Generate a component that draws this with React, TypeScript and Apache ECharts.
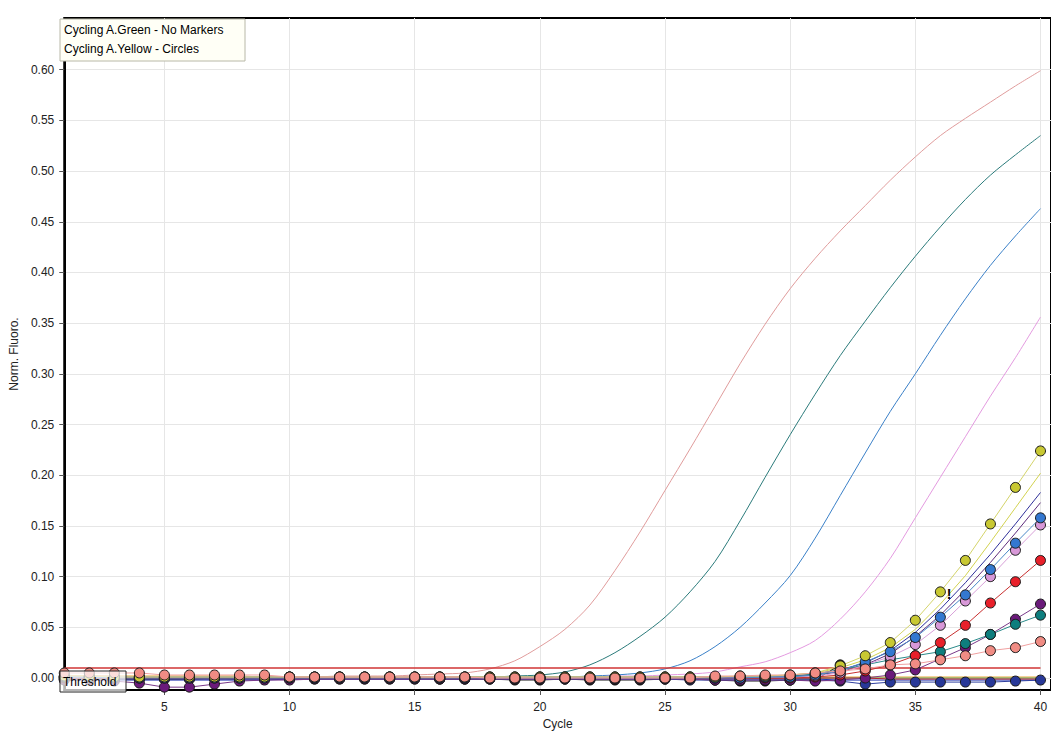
import React, { useEffect, useRef } from "react";
import * as echarts from "echarts";

const CYCLES = [1,2,3,4,5,6,7,8,9,10,11,12,13,14,15,16,17,18,19,20,21,22,23,24,25,26,27,28,29,30,31,32,33,34,35,36,37,38,39,40];
const X_TICKS = [5, 10, 15, 20, 25, 30, 35, 40];
const Y_TICKS = [0, 0.05, 0.1, 0.15, 0.2, 0.25, 0.3, 0.35, 0.4, 0.45, 0.5, 0.55, 0.6];
const THRESHOLD = 0.01;
const LEGEND_LINES = ["Cycling A.Green - No Markers", "Cycling A.Yellow - Circles"];

// Cycling A.Green (no markers)
const GREEN_SALMON = [0.003,0.002,0.002,0.001,0.001,0.001,0.001,0.001,0.001,0.001,0.001,0.002,0.002,0.002,0.003,0.004,0.005,0.009,0.017,0.031,0.048,0.072,0.106,0.144,0.185,0.226,0.268,0.310,0.349,0.384,0.414,0.441,0.466,0.491,0.514,0.535,0.552,0.568,0.584,0.599];
const GREEN_TEAL = [0.001,0.001,0.001,0.000,0.000,0.000,0.000,0.000,0.000,0.000,0.000,0.000,0.000,0.001,0.001,0.001,0.001,0.001,0.002,0.003,0.006,0.013,0.025,0.041,0.060,0.085,0.115,0.155,0.198,0.240,0.280,0.318,0.352,0.385,0.416,0.445,0.472,0.496,0.516,0.535];
const GREEN_BLUE = [0.000,0.000,0.000,0.000,0.000,0.000,0.000,0.000,0.000,0.000,0.000,0.000,0.000,0.000,0.000,0.000,0.001,0.001,0.001,0.001,0.001,0.002,0.003,0.005,0.009,0.017,0.031,0.050,0.074,0.101,0.138,0.180,0.222,0.263,0.300,0.338,0.374,0.407,0.436,0.463];
const GREEN_PINK = [0.001,0.001,0.001,0.001,0.001,0.001,0.001,0.001,0.001,0.001,0.001,0.001,0.001,0.001,0.001,0.001,0.001,0.001,0.001,0.001,0.001,0.001,0.002,0.002,0.003,0.004,0.006,0.011,0.016,0.025,0.037,0.058,0.085,0.118,0.158,0.198,0.238,0.278,0.316,0.356];

// extra unmarked traces
const LINE_YELLOW = [0.001,0.001,0.001,0.001,0.001,0.001,0.001,0.001,0.001,0.001,0.001,0.001,0.001,0.001,0.001,0.001,0.001,0.001,0.001,0.001,0.001,0.001,0.001,0.001,0.001,0.001,0.001,0.001,0.002,0.003,0.005,0.010,0.018,0.030,0.048,0.073,0.101,0.134,0.168,0.202];
const LINE_NAVY = [0.000,0.000,0.000,0.000,0.000,0.000,0.000,0.000,0.000,0.000,0.000,0.000,0.000,0.000,0.000,0.000,0.000,0.000,0.000,0.000,0.000,0.000,0.000,0.000,0.000,0.000,0.001,0.001,0.001,0.002,0.004,0.008,0.015,0.027,0.045,0.068,0.094,0.122,0.152,0.183];
const LINE_PURPLE = [-0.001,-0.001,-0.001,-0.001,-0.001,-0.001,-0.001,-0.001,-0.001,-0.001,-0.001,-0.001,-0.001,-0.001,-0.001,-0.001,-0.001,-0.001,-0.001,-0.001,-0.001,-0.001,-0.001,0.000,0.000,0.000,0.000,0.000,0.001,0.001,0.003,0.006,0.013,0.024,0.041,0.062,0.087,0.114,0.143,0.173];
const LINE_DARKRED = [0.000,0.000,0.000,0.000,0.000,0.000,0.000,0.000,0.000,0.000,0.000,0.000,0.000,0.000,0.000,0.000,0.000,0.000,0.000,0.000,0.000,0.000,0.000,0.000,0.000,0.000,0.000,0.000,0.000,0.000,0.000,0.000,0.000,-0.001,-0.001,-0.001,-0.001,-0.001,-0.001,-0.001];
const LINE_ORANGE = [0.002,0.002,0.002,0.002,0.002,0.002,0.002,0.002,0.001,0.001,0.001,0.001,0.001,0.001,0.001,0.001,0.001,0.001,0.001,0.001,0.001,0.001,0.001,0.001,0.001,0.001,0.001,0.001,0.001,0.001,0.001,0.001,0.001,0.001,0.001,0.001,0.001,0.001,0.001,0.001];
const LINE_GREEN = [0.001,0.001,0.001,0.001,0.001,0.001,0.001,0.001,0.001,0.000,0.000,0.000,0.000,0.000,0.000,0.000,0.000,0.000,0.000,0.000,0.000,0.000,0.000,0.000,0.000,0.000,0.000,0.000,0.000,0.000,0.000,0.000,0.000,0.000,0.000,0.000,0.000,0.000,0.000,0.000];
const LINE_BLUE = [-0.002,-0.002,-0.002,-0.002,-0.002,-0.002,-0.002,-0.002,-0.002,-0.001,-0.001,-0.001,-0.001,-0.001,-0.001,-0.001,-0.001,-0.001,-0.001,-0.001,-0.001,-0.001,-0.001,-0.001,-0.001,-0.001,-0.001,-0.001,-0.001,-0.001,-0.001,-0.002,-0.002,-0.002,-0.002,-0.002,-0.002,-0.002,-0.002,-0.002];

// Cycling A.Yellow (circles)
const Y_OLIVE = [0.002,0.002,0.001,0.001,0.001,0.001,0.001,0.001,0.001,0.001,0.001,0.001,0.001,0.001,0.001,0.001,0.001,0.001,0.001,0.001,0.001,0.001,0.001,0.001,0.001,0.001,0.001,0.002,0.002,0.003,0.005,0.012,0.022,0.035,0.057,0.085,0.116,0.152,0.188,0.224];
const Y_BLUE = [0.001,0.001,0.000,0.000,0.000,0.000,0.000,0.000,0.000,0.000,0.000,0.000,0.000,0.000,0.000,0.000,0.000,0.000,0.000,0.000,0.000,0.000,0.000,0.000,0.000,0.000,0.000,0.000,0.001,0.001,0.003,0.007,0.016,0.026,0.040,0.060,0.082,0.107,0.133,0.158];
const Y_LIGHTPINK = [0.001,0.001,0.001,0.001,0.001,0.001,0.001,0.001,0.001,0.001,0.001,0.001,0.001,0.001,0.001,0.001,0.001,0.001,0.001,0.001,0.001,0.001,0.001,0.001,0.001,0.001,0.001,0.001,0.001,0.001,0.002,0.005,0.013,0.021,0.033,0.052,0.076,0.100,0.126,0.151];
const Y_RED = [0.000,0.000,0.000,0.000,0.000,0.000,0.000,0.000,0.000,0.000,0.000,0.000,0.000,0.000,0.000,0.000,0.000,0.000,0.000,0.000,0.000,0.000,0.000,0.000,0.000,0.000,0.000,0.000,0.000,0.000,0.001,0.003,0.007,0.013,0.022,0.035,0.052,0.074,0.095,0.116];
const Y_PURPLE = [-0.002,-0.002,-0.003,-0.005,-0.009,-0.009,-0.006,-0.003,-0.002,-0.002,-0.001,-0.001,-0.001,-0.001,-0.001,-0.001,-0.001,-0.001,-0.001,-0.001,-0.001,-0.001,-0.001,-0.001,-0.001,-0.001,-0.002,-0.002,-0.002,-0.002,-0.003,-0.002,0.000,0.003,0.008,0.019,0.030,0.043,0.058,0.073];
const Y_TEAL = [0.001,0.001,0.001,0.001,0.001,0.001,0.001,0.001,0.001,0.001,0.001,0.001,0.001,0.001,0.001,0.001,0.001,0.001,0.001,0.001,0.001,0.001,0.001,0.001,0.001,0.001,0.001,0.001,0.001,0.002,0.004,0.008,0.013,0.018,0.022,0.026,0.034,0.043,0.053,0.062];
const Y_NAVY = [-0.001,-0.001,-0.001,-0.001,-0.001,-0.001,-0.001,-0.001,-0.001,-0.001,-0.001,-0.001,-0.001,-0.001,-0.001,-0.001,-0.001,-0.001,-0.001,-0.001,-0.001,-0.001,-0.001,-0.001,-0.001,-0.002,-0.002,-0.002,-0.002,-0.002,-0.002,-0.003,-0.006,-0.004,-0.004,-0.004,-0.004,-0.004,-0.003,-0.002];
const Y_BLACK = [-0.001,-0.001,-0.001,-0.001,-0.001,-0.001,0.000,-0.001,0.001,0.000,0.000,0.000,0.000,0.000,0.000,-0.001,-0.001,-0.001,-0.002,-0.002,-0.001,-0.002,-0.002,-0.002,-0.001,-0.001,-0.002,-0.003,-0.003,-0.002,-0.002,0.013,null,null,null,null,null,null,null,null];
const Y_SALMON = [0.005,0.005,0.005,0.005,0.003,0.003,0.003,0.003,0.003,0.001,0.001,0.001,0.001,0.001,0.001,0.001,0.001,0.000,0.000,0.000,0.000,0.000,0.000,0.000,0.000,0.000,0.002,0.002,0.003,0.003,0.005,0.007,0.009,0.013,0.014,0.018,0.022,0.027,0.030,0.036];

const FONT = "Liberation Sans, Arial, sans-serif";

function toPoints(vals: (number | null)[]) {
  return CYCLES.map((c, i) => [c, vals[i] === null ? "-" : vals[i]]);
}

function plainLine(name: string, vals: number[], color: string, smooth: number | boolean = false) {
  return {
    name,
    type: "line",
    data: toPoints(vals),
    showSymbol: false,
    symbol: "none",
    smooth,
    lineStyle: { color, width: 1 },
    z: 2,
    silent: true,
  };
}

function markerLine(name: string, vals: (number | null)[], fill: string, line: string, extra: any = {}) {
  return {
    name,
    type: "line",
    data: toPoints(vals),
    symbol: "circle",
    symbolSize: 10,
    showSymbol: true,
    connectNulls: false,
    itemStyle: { color: fill, borderColor: "#1a1a1a", borderWidth: 1 },
    lineStyle: { color: line, width: 1 },
    z: 3,
    silent: true,
    ...extra,
  };
}

export default function App() {
  const ref = useRef<HTMLDivElement>(null);
  useEffect(() => {
    if (!ref.current) return;
    const chart = echarts.init(ref.current, null, { renderer: "svg" });
    const option: any = {
      animation: false,
      backgroundColor: "#ffffff",
      textStyle: { fontFamily: FONT },
      grid: {
        left: 60,
        top: 18,
        right: 0,
        bottom: 42,
        show: true,
        borderColor: "#000",
        borderWidth: 2,
        backgroundColor: "#fff",
      },
      xAxis: {
        type: "value",
        min: 1,
        max: 40.42,
        name: "Cycle",
        nameLocation: "middle",
        nameGap: 28,
        nameTextStyle: { color: "#222", fontSize: 12, fontFamily: FONT },
        axisLine: { show: true, onZero: false, lineStyle: { color: "#000", width: 2 } },
        axisTick: { show: true, customValues: X_TICKS, length: 5, lineStyle: { color: "#555" } },
        axisLabel: { customValues: X_TICKS, color: "#222", fontSize: 12, margin: 11, fontFamily: FONT },
        splitLine: { show: true, lineStyle: { color: "#e6e6e6", width: 1 } },
      },
      yAxis: {
        type: "value",
        min: -0.0118,
        max: 0.651,
        name: "Norm. Fluoro.",
        nameLocation: "middle",
        nameGap: 36,
        nameTextStyle: { color: "#222", fontSize: 12, fontFamily: FONT },
        axisLine: { show: true, onZero: false, lineStyle: { color: "#000", width: 2 } },
        axisTick: { show: true, customValues: Y_TICKS, length: 5, lineStyle: { color: "#555" } },
        axisLabel: {
          customValues: Y_TICKS,
          color: "#222",
          fontSize: 12,
          margin: 10,
          fontFamily: FONT,
          formatter: (v: number) => v.toFixed(2),
        },
        splitLine: { show: true, lineStyle: { color: "#e6e6e6", width: 1 } },
      },
      series: [
        plainLine("g-salmon", GREEN_SALMON, "#e09c9c", 0.3),
        plainLine("g-teal", GREEN_TEAL, "#2b7b7b", 0.3),
        plainLine("g-blue", GREEN_BLUE, "#3a80c8", 0.3),
        plainLine("g-pink", GREEN_PINK, "#e49ae0", 0.3),
        plainLine("l-orange", LINE_ORANGE, "#e8a030"),
        plainLine("l-green", LINE_GREEN, "#5aa040"),
        plainLine("l-blue", LINE_BLUE, "#2030b0"),
        plainLine("l-darkred", LINE_DARKRED, "#b02030"),
        plainLine("l-yellow", LINE_YELLOW, "#d2d250"),
        plainLine("l-navy", LINE_NAVY, "#30309a"),
        plainLine("l-purple", LINE_PURPLE, "#5e2c7c"),
        {
          name: "Threshold",
          type: "line",
          data: [[CYCLES[0], THRESHOLD], [CYCLES[CYCLES.length - 1], THRESHOLD]],
          showSymbol: false,
          symbol: "none",
          lineStyle: { color: "#d03434", width: 1.5 },
          z: 2,
          silent: true,
        },
        markerLine("y-black", Y_BLACK, "#111111", "#333333"),
        markerLine("y-navy", Y_NAVY, "#283898", "#3040a0"),
        markerLine("y-purple", Y_PURPLE, "#6a1a7a", "#7a3a8a"),
        markerLine("y-teal", Y_TEAL, "#0e7e7e", "#2a8a8a"),
        markerLine("y-red", Y_RED, "#e8202a", "#c83030"),
        markerLine("y-lightpink", Y_LIGHTPINK, "#d898d8", "#d8a0d8"),
        markerLine("y-blue", Y_BLUE, "#3478d0", "#4a88c8"),
        markerLine("y-olive", Y_OLIVE, "#c8c832", "#d4d46a", {
          markPoint: {
            symbol: "rect",
            symbolSize: 1,
            itemStyle: { color: "transparent", borderWidth: 0 },
            data: [{ coord: [36.35, 0.083] }],
            label: { show: true, formatter: "!", color: "#000", fontSize: 14, fontWeight: "bold", position: "inside" },
          },
        }),
        markerLine("y-salmon", Y_SALMON, "#f08c84", "#f0a0a0"),
      ],
      graphic: [
        {
          type: "rect",
          z: 100,
          x: 60,
          y: 19,
          shape: { x: 0, y: 0, width: 185, height: 42 },
          style: { fill: "#fffff6", stroke: "#b8b8a8", lineWidth: 1 },
        },
        {
          type: "text",
          z: 101,
          x: 64,
          y: 24,
          style: { text: LEGEND_LINES[0], fill: "#000", font: "12px " + FONT },
        },
        {
          type: "text",
          z: 101,
          x: 64,
          y: 43,
          style: { text: LEGEND_LINES[1], fill: "#000", font: "12px " + FONT },
        },
        {
          type: "rect",
          z: 100,
          x: 60,
          y: 671,
          shape: { x: 0, y: 0, width: 66, height: 21 },
          style: { fill: "rgba(255,255,255,0.7)", stroke: "#222", lineWidth: 1 },
        },
        {
          type: "text",
          z: 101,
          x: 63,
          y: 676,
          style: { text: "Threshold", fill: "#000", font: "12px " + FONT },
        },
      ],
    };
    chart.setOption(option);
    return () => chart.dispose();
  }, []);
  return (
    <div
      ref={ref}
      style={{ position: "fixed", left: 0, top: 0, width: 1051, height: 735, background: "#fff" }}
    />
  );
}
